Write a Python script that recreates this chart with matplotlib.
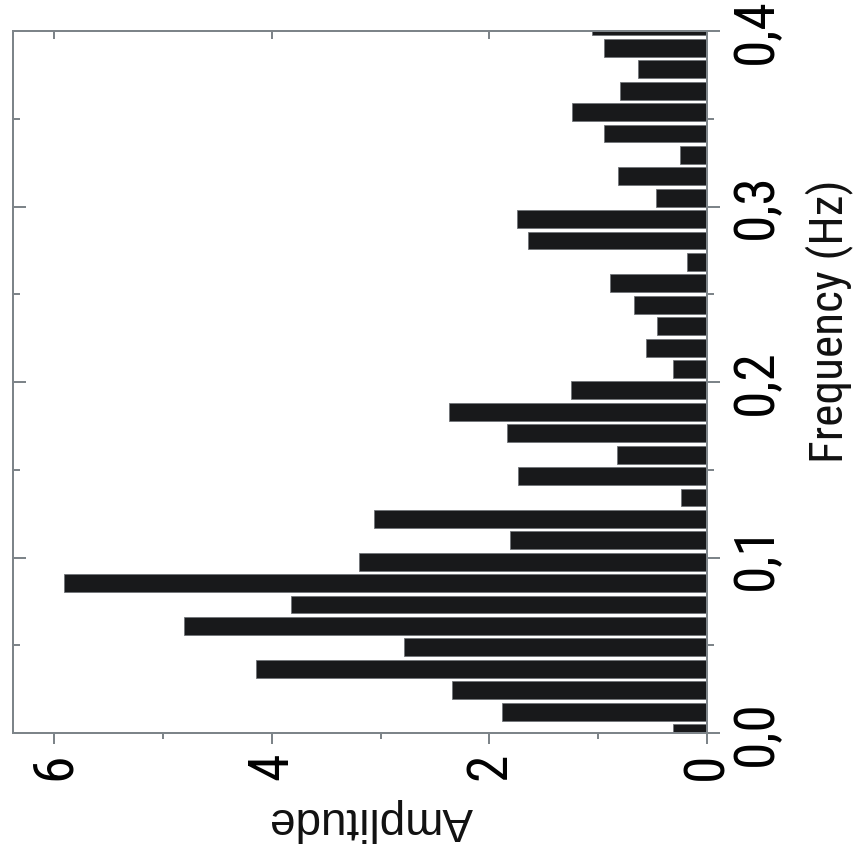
import matplotlib
matplotlib.use("Agg")
import matplotlib.pyplot as plt
from matplotlib import font_manager
from matplotlib.font_manager import FontProperties

# Spectrum bins (Hz) and their amplitudes
freq_hz = [0.0000, 0.0122, 0.0244, 0.0366, 0.0488, 0.0610, 0.0732, 0.0854,
           0.0976, 0.1098, 0.1220, 0.1342, 0.1464, 0.1586, 0.1708, 0.1830,
           0.1952, 0.2074, 0.2196, 0.2318, 0.2440, 0.2562, 0.2684, 0.2806,
           0.2928, 0.3050, 0.3172, 0.3294, 0.3416, 0.3538, 0.3660, 0.3782,
           0.3904, 0.4026]
amplitude = [0.31, 1.88, 2.34, 4.15, 2.79, 4.81, 3.82, 5.91,
             3.20, 1.81, 3.06, 0.24, 1.74, 0.83, 1.84, 2.37,
             1.25, 0.31, 0.56, 0.46, 0.67, 0.89, 0.18, 1.65,
             1.75, 0.47, 0.82, 0.25, 0.95, 1.24, 0.80, 0.63,
             0.95, 1.06]

freq_ticks = [0.0, 0.1, 0.2, 0.3, 0.4]
freq_minor = [0.05, 0.15, 0.25, 0.35]
freq_tick_labels = ["0,0", "0,1", "0,2", "0,3", "0,4"]
amp_ticks = [0, 2, 4, 6]
amp_minor = [1, 3, 5]
amp_tick_labels = ["0", "2", "4", "6"]


def narrow_font():
    """Return (FontProperties, is_condensed) for a narrow sans face if one exists."""
    preferred = ["Liberation Sans Narrow", "Arial Narrow", "Roboto Condensed",
                 "Noto Sans", "Open Sans", "DejaVu Sans", "Roboto", "Lato", "Inter"]
    found = {}
    for ent in font_manager.fontManager.ttflist:
        fname = ent.fname.lower()
        narrow = ("narrow" in fname or "condensed" in fname
                  or str(ent.stretch) in ("condensed", "semi-condensed",
                                          "extra-condensed", "ultra-condensed"))
        if not narrow:
            continue
        if ent.weight not in ("normal", "regular", 400, "book"):
            continue
        if ent.style != "normal":
            continue
        penalty = 1 if ("semi" in fname or "extra" in fname or "ultra" in fname) else 0
        found.setdefault(ent.name, []).append((penalty, ent.fname))
    for name in preferred:
        if name in found:
            return FontProperties(fname=sorted(found[name])[0][1]), True
    for name, files in found.items():
        return FontProperties(fname=sorted(files)[0][1]), True
    return FontProperties(family=["Liberation Sans", "DejaVu Sans"]), False


NARROW_FP, IS_NARROW = narrow_font()
REGULAR_FP = FontProperties(family=["Liberation Sans", "DejaVu Sans"])
TICK_SIZE = 40 if IS_NARROW else 35
LABEL_SIZE = 34 if IS_NARROW else 29

W, H = 855, 858
AX_L, AX_R, AX_T, AX_B = 13, 707, 31, 733
FRAME = "#7d8489"
BAR = "#18191b"
LW = 1.44

fig = plt.figure(figsize=(W / 100, H / 100), dpi=100)
ax = fig.add_axes([AX_L / W, 1 - AX_B / H, (AX_R - AX_L) / W, (AX_B - AX_T) / H])

ax.barh(freq_hz, amplitude, height=0.0102, color=BAR,
        edgecolor="#707478", linewidth=0.6, zorder=2)

ax.set_xlim(6.38, 0)
ax.set_ylim(0, 0.4)

for sp in ax.spines.values():
    sp.set_color(FRAME)
    sp.set_linewidth(LW)
    sp.set_zorder(3)

# Frequency axis: labelled ticks on the right, pointing outward
ax.yaxis.set_ticks_position("right")
ax.set_yticks(freq_ticks, labels=freq_tick_labels)
ax.set_yticks(freq_minor, minor=True)
ax.tick_params(axis="y", which="major", direction="out", length=9.4,
               width=LW, color=FRAME, pad=7)
ax.tick_params(axis="y", which="minor", direction="out", length=5,
               width=LW, color=FRAME)
for lab in ax.get_yticklabels():
    lab.set_fontproperties(NARROW_FP)
    lab.set_fontsize(TICK_SIZE)
    lab.set_rotation(90)
    lab.set_va("center")
    lab.set_ha("left")

# Amplitude axis: labelled ticks at the bottom, pointing outward
ax.set_xticks(amp_ticks, labels=amp_tick_labels)
ax.set_xticks(amp_minor, minor=True)
ax.tick_params(axis="x", which="major", direction="out", length=7.9,
               width=LW, color=FRAME, pad=6)
ax.tick_params(axis="x", which="minor", direction="out", length=4.3,
               width=LW, color=FRAME)
for lab in ax.get_xticklabels():
    lab.set_fontproperties(NARROW_FP)
    lab.set_fontsize(TICK_SIZE)
    lab.set_rotation(90)
    lab.set_va("top")
    lab.set_ha("center")

# Mirrored inward ticks on the left and top edges
left = ax.secondary_yaxis("left")
left.set_yticks(freq_ticks)
left.set_yticks(freq_minor, minor=True)
left.tick_params(which="major", direction="in", length=9.4, width=LW,
                 color=FRAME, labelleft=False)
left.tick_params(which="minor", direction="in", length=5, width=LW,
                 color=FRAME)
left.spines["left"].set_color(FRAME)
left.spines["left"].set_linewidth(LW)

top = ax.secondary_xaxis("top")
top.set_xticks(amp_ticks)
top.tick_params(which="major", direction="in", length=5.8, width=LW,
                color=FRAME, labeltop=False)
top.spines["top"].set_color(FRAME)
top.spines["top"].set_linewidth(LW)

# Axis titles
fig.text(829 / W, 1 - 321 / H, "Frequency (Hz)", rotation=90,
         ha="center", va="center", fontproperties=NARROW_FP,
         fontsize=LABEL_SIZE, color="#111111")
fig.text(371 / W, 1 - 820 / H, "Amplitude", rotation=180,
         ha="center", va="center", fontproperties=REGULAR_FP,
         fontsize=33, color="#111111")

fig.savefig("out.png", dpi=100)
